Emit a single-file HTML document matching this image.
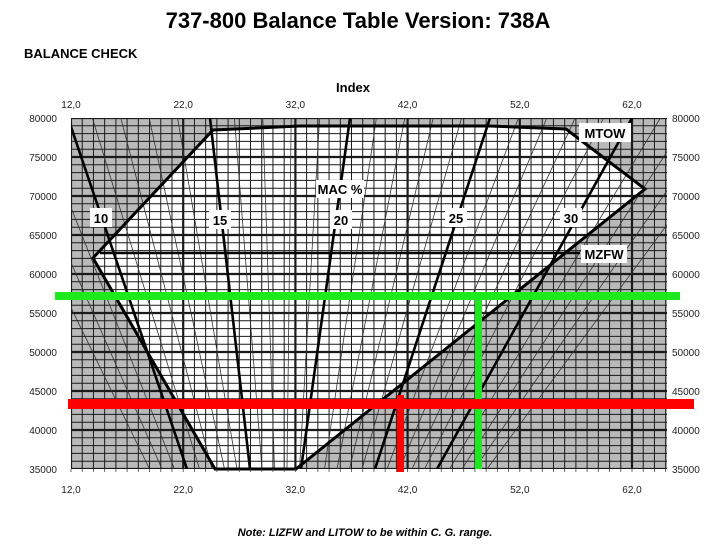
<!DOCTYPE html>
<html><head><meta charset="utf-8"><style>
body{margin:0;width:716px;height:550px;background:#fff;overflow:hidden;font-family:"Liberation Sans",sans-serif}
</style></head><body>
<svg id="s" width="716" height="550" xmlns="http://www.w3.org/2000/svg" font-family="Liberation Sans, sans-serif">
<text x="358" y="28" font-size="22" font-weight="bold" text-anchor="middle">737-800 Balance Table Version: 738A</text>
<text x="24" y="58" font-size="13" font-weight="bold">BALANCE CHECK</text>
<text x="353" y="92" font-size="13" font-weight="bold" text-anchor="middle">Index</text>
<defs><clipPath id="c"><rect x="71" y="118" width="596" height="351"/></clipPath></defs>
<rect x="71" y="118" width="596" height="351" fill="#b9b9b9"/>
<polygon points="93,258 213,130 300,126 490,126 566,129 645,189 296,469 215,469" fill="#fff"/>
<g id="grid" clip-path="url(#c)"></g>
<g id="mac" clip-path="url(#c)"></g>
<polygon points="93,258 213,130 300,126 490,126 566,129 645,189 296,469 215,469" fill="none" stroke="#000" stroke-width="3"/>
<line x1="100" y1="253" x2="580" y2="253" stroke="#000" stroke-width="2.5"/>
<g font-size="13" font-weight="bold" text-anchor="middle">
<rect x="90" y="208" width="22" height="19" fill="#fff"/><text x="101" y="223">10</text>
<rect x="209" y="210" width="22" height="19" fill="#fff"/><text x="220" y="225">15</text>
<rect x="330" y="210" width="22" height="19" fill="#fff"/><text x="341" y="225">20</text>
<rect x="445" y="208" width="22" height="19" fill="#fff"/><text x="456" y="223">25</text>
<rect x="560" y="208" width="22" height="19" fill="#fff"/><text x="571" y="223">30</text>
<rect x="316" y="180" width="48" height="18" fill="#fff"/><text x="340" y="194">MAC %</text>
<rect x="579" y="123" width="52" height="19" fill="#fff"/><text x="605" y="138">MTOW</text>
<rect x="581" y="245" width="46" height="18" fill="#fff"/><text x="604" y="259">MZFW</text>
</g>
<g id="lab" font-size="10" fill="#222"></g>
<rect x="55" y="292" width="625" height="8" fill="#1ee81e"/>
<rect x="475" y="296" width="7" height="173" fill="#1ee81e"/>
<rect x="68" y="399" width="626" height="10" fill="#f00"/>
<rect x="397" y="395" width="7" height="77" fill="#f00"/>
<text x="365" y="536" font-size="11" font-weight="bold" font-style="italic" text-anchor="middle">Note: LIZFW and LITOW to be within C. G. range.</text>
</svg>
<script>
var NS="http://www.w3.org/2000/svg";
function L(g,x1,y1,x2,y2,w,c){var l=document.createElementNS(NS,"line");l.setAttribute("x1",x1);l.setAttribute("y1",y1);l.setAttribute("x2",x2);l.setAttribute("y2",y2);l.setAttribute("stroke",c||"#000");l.setAttribute("stroke-width",w);g.appendChild(l);}
function T(g,x,y,s,a){var t=document.createElementNS(NS,"text");t.setAttribute("x",x);t.setAttribute("y",y);t.setAttribute("text-anchor",a);t.textContent=s;g.appendChild(t);}
var g=document.getElementById("grid"),m=document.getElementById("mac"),lb=document.getElementById("lab");
var sx=11.22,x0=71,yT=118,yB=469;
for(var i=0;i<=53;i++){var x=x0+i*sx;L(g,x,yT,x,yB,(i%10==0)?2.2:1,"#1a1a1a");}
for(var k=0;k<=45;k++){var y=yB-k*(351/45);L(g,x0,y,667,y,(k%5==0)?2.2:1,"#1a1a1a");}
for(var mm=7;mm<=34;mm++){var t=64+28.4*(mm-10),b=187+12.5*(mm-10);
 if(mm%5==0)continue;L(m,t,yT,b,yB,0.8,"#333");}
var thick=[[68,187],[210,250],[350,301],[490,375],[632,437]];
thick.forEach(function(p){L(m,p[0],yT,p[1],yB,2.6,"#000");});
for(var j=0;j<6;j++){var x=x0+j*10*sx,s=(12+10*j)+",0";T(lb,x,108,s,"middle");T(lb,x,493,s,"middle");}
for(var k=0;k<10;k++){var y=yB-k*(351/9)+4,s=String(35000+5000*k);T(lb,57,y,s,"end");T(lb,672,y,s,"start");}
for(var i=0;i<=53;i++){L(lb,x0+i*sx,yB,x0+i*sx,yB+3,0.8,"#444");}
</script>
</body></html>
